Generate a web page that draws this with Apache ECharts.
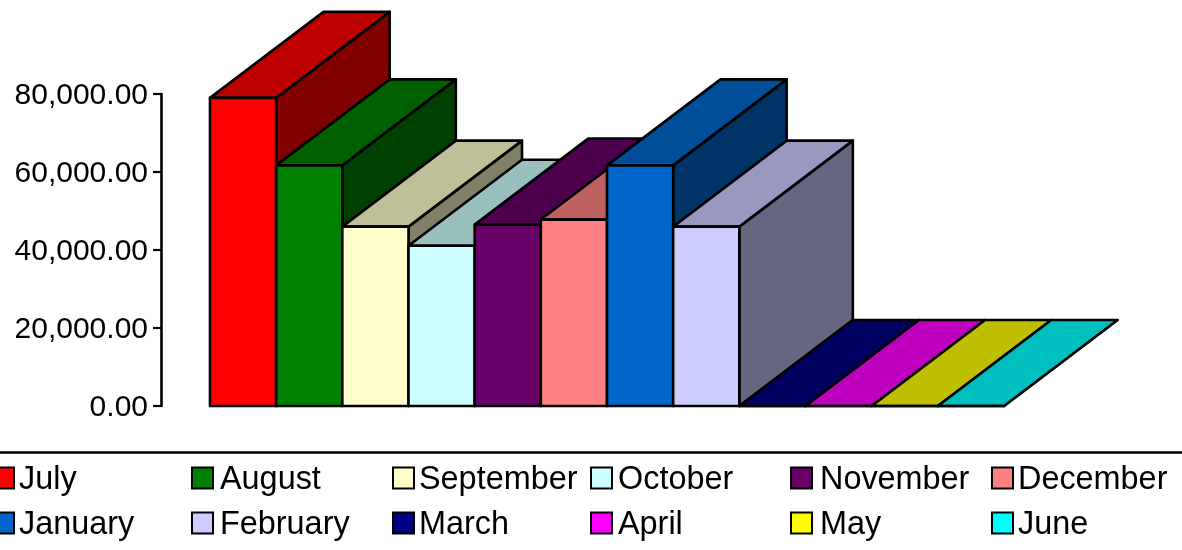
<!DOCTYPE html>
<html>
<head>
<meta charset="utf-8">
<style>html,body{margin:0;padding:0;background:#fff}#c{width:1182px;height:550px}</style>
<script src="https://cdn.jsdelivr.net/npm/echarts@6/dist/echarts.min.js"></script>
</head>
<body>
<div id="c"></div>
<script>
const months = ['July','August','September','October','November','December','January','February','March','April','May','June'];
const values = [79000, 61700, 46000, 41100, 46500, 47800, 61700, 46000, 0, 0, 0, 0];
const frontColors = ['#ff0000','#008000','#ffffcc','#ccffff','#660066','#ff8080','#0066cc','#ccccff','#000080','#ff00ff','#ffff00','#00ffff'];
const topColors = ['#bf0000','#006000','#bfbf99','#99bfbf','#4d004d','#bf6060','#004d99','#9999bf','#000060','#bf00bf','#bfbf00','#00bfbf'];
const sideColors = ['#800000','#004000','#808066','#668080','#330033','#804040','#003366','#666680','#000040','#800080','#808000','#008080'];

const legendLayout = [
  {left:-8, pad:0},
  {left:191, pad:2},
  {left:392, pad:0},
  {left:590, pad:1},
  {left:790, pad:3},
  {left:991, pad:0}
];
const DEPTH_X = 113.5, DEPTH_Y = -86;
const stroke = {stroke:'#000', lineWidth:2.6, lineJoin:'round'};

function renderBar(i){
  return function(params, api){
    const t = api.coord([api.value(0), api.value(1)]);
    const b = api.coord([api.value(0), 0]);
    const w = api.size([1,0])[0];
    const l = t[0]-w/2, r = t[0]+w/2, ty = t[1], by = b[1];
    const poly = (pts, fill) => ({type:'polygon', shape:{points:pts}, style:Object.assign({fill}, stroke)});
    return {type:'group', children:[
      poly([[r,ty],[r+DEPTH_X,ty+DEPTH_Y],[r+DEPTH_X,by+DEPTH_Y],[r,by]], sideColors[i]),
      poly([[l,ty],[l+DEPTH_X,ty+DEPTH_Y],[r+DEPTH_X,ty+DEPTH_Y],[r,ty]], topColors[i]),
      poly([[l,ty],[r,ty],[r,by],[l,by]], frontColors[i])
    ]};
  };
}

const chart = echarts.init(document.getElementById('c'), null, {renderer:'canvas'});
chart.setOption({
  animation:false,
  backgroundColor:'#fff',
  grid:{left:210, top:94, width:794, height:312, containLabel:false},
  xAxis:{type:'category', data:months, show:false},
  yAxis:{type:'value', min:0, max:80000, interval:20000, offset:49,
    axisLine:{show:true, lineStyle:{color:'#000', width:2.6}},
    axisTick:{show:true, length:8, lineStyle:{color:'#000', width:2.2}},
    splitLine:{show:false},
    axisLabel:{margin:13, color:'#000', fontFamily:'Liberation Sans', fontSize:30,
      formatter:v=>'{t|'+v.toLocaleString('en-US',{minimumFractionDigits:2, maximumFractionDigits:2})+'}',
      rich:{t:{color:'#000', fontFamily:'Liberation Sans', fontSize:30, padding:[4,0,0,0], verticalAlign:'top'}}}
  },
  legend: legendLayout.map((col,c)=>({
    orient:'vertical', left:col.left, top:464, padding:0, itemGap:13, itemWidth:21, itemHeight:21,
    icon:'rect', selectedMode:false,
    data:[months[c], months[c+6]],
    formatter:'{t|{name}}',
    textStyle:{color:'#000', fontFamily:'Liberation Sans', fontSize:32.4,
      rich:{t:{color:'#000', fontFamily:'Liberation Sans', fontSize:32.4, padding:[4,0,0,col.pad], verticalAlign:'top'}}}
  })),
  series: months.map((m,i)=>({
    name:m, type:'custom', renderItem:renderBar(i), silent:true,
    itemStyle:{color:frontColors[i], borderColor:'#000', borderWidth:2.6},
    encode:{x:0,y:1},
    data:[[m, values[i]]]
  })),
  graphic:[{type:'line', shape:{x1:0,y1:452.5,x2:1182,y2:452.5}, style:{stroke:'#000', lineWidth:2.4}}]
});
</script>
</body>
</html>
